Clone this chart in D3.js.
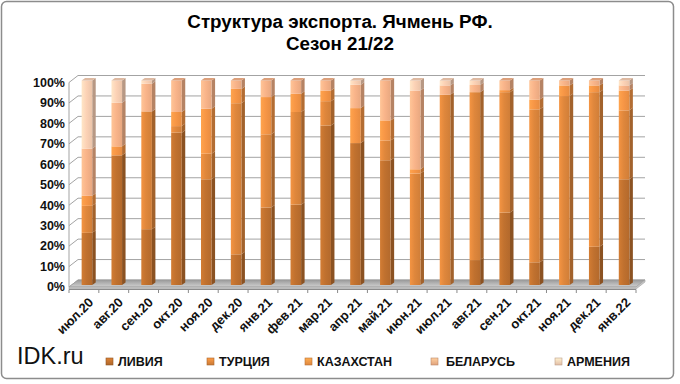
<!DOCTYPE html>
<html><head><meta charset="utf-8">
<script src="https://cdn.jsdelivr.net/npm/d3@7"></script>
<style>body{margin:0;background:#fff}svg{display:block}text{font-family:"Liberation Sans",Arial,sans-serif}</style>
</head><body><svg id="c" width="680" height="384"></svg>
<script>
const categories = ["июл.20","авг.20","сен.20","окт.20","ноя.20","дек.20","янв.21","фев.21","мар.21","апр.21","май.21","июн.21","июл.21","авг.21","сен.21","окт.21","ноя.21","дек.21","янв.22"];
const seriesNames = ["ЛИВИЯ","ТУРЦИЯ","КАЗАХСТАН","БЕЛАРУСЬ","АРМЕНИЯ"];
const libya   = [25.5, 63.4, 27.3, 74.5, 51.7, 15.0, 37.9, 39.3, 78.0, 69.4, 61.0,  0.0,  0.0, 12.2, 35.4, 11.1,  0.0, 18.7, 51.7];
const turkey  = [13.2,  0.0, 57.6,  3.2, 12.5, 73.9, 35.8, 45.3, 11.9,  0.0,  9.7, 54.5, 93.0, 82.1, 58.9, 74.8, 92.4, 75.6, 33.7];
const kazakh  = [ 4.9,  4.4,  0.0,  6.9, 22.0,  7.0, 18.2,  8.9,  5.2, 17.1,  9.8,  2.1,  0.0,  0.0,  1.0,  4.8,  5.2,  3.3,  9.7];
const belarus = [23.1, 21.3, 13.5, 15.4, 13.8,  4.1,  8.1,  6.5,  4.9, 11.4, 19.5, 38.5,  4.6,  3.5,  4.7,  9.3,  2.4,  2.4,  2.5];
const armenia = [33.3, 10.9,  1.6,  0.0,  0.0,  0.0,  0.0,  0.0,  0.0,  2.1,  0.0,  4.9,  2.4,  2.2,  0.0,  0.0,  0.0,  0.0,  2.4];
const yTicks = [0,10,20,30,40,50,60,70,80,90,100];
const colors = ["#c0712f","#df873c","#f79646","#f9b48a","#fcd2b6"];

const seriesData = [libya, turkey, kazakh, belarus, armenia];
const table = categories.map((c,i)=>{const o={cat:c}; seriesNames.forEach((s,k)=>o[s]=seriesData[k][i]); return o;});
const stacked = d3.stack().keys(seriesNames)(table);

const svg = d3.select("#c");
const defs = svg.append("defs");

svg.append("rect").attr("x",1.5).attr("y",1.5).attr("width",672).attr("height",377).attr("rx",5)
  .attr("fill","#fff").attr("stroke","#8c8c8c").attr("stroke-width",1.5);

// title
svg.append("text").attr("x",340).attr("y",28).attr("text-anchor","middle").attr("font-size",18.8).attr("font-weight","bold").text("Структура экспорта. Ячмень РФ.");
svg.append("text").attr("x",340).attr("y",50).attr("text-anchor","middle").attr("font-size",18.8).attr("font-weight","bold").text("Сезон 21/22");

const x = d3.scaleBand().domain(categories).range([69,636]);
const y = d3.scaleLinear().domain([0,100]).range([287,82.5]);
const BACK = {dx:9, dy:-7};
const BF = {dx:3, dy:-2};
const SD = {dx:3.5, dy:-2.5};

// walls / gridlines
const grid = svg.append("g").attr("fill","none").attr("stroke","#a3a3a3").attr("stroke-width",1);
yTicks.forEach(v=>{
  const yy=y(v);
  grid.append("path").attr("d",`M${x.range()[0]},${yy}L${x.range()[0]+BACK.dx},${yy+BACK.dy}L${x.range()[1]+BACK.dx},${yy+BACK.dy}`);
});
grid.append("path").attr("d",`M${x.range()[0]},${y(100)}L${x.range()[0]},${y(0)}`);

// floor
const fg = defs.append("linearGradient").attr("id","floor").attr("x1",0).attr("y1",0).attr("x2",0).attr("y2",1);
fg.append("stop").attr("offset","0%").attr("stop-color","#9a9a9a");
fg.append("stop").attr("offset","100%").attr("stop-color","#d0d0d0");
const x0=x.range()[0], x1=x.range()[1], yb=y(0);
svg.append("path").attr("d",`M${x0},${yb}L${x0+BACK.dx},${yb+BACK.dy}L${x1+BACK.dx},${yb+BACK.dy}L${x1},${yb}Z`)
  .attr("fill","url(#floor)").attr("stroke","#9c9c9c").attr("stroke-width",0.8);
svg.append("path").attr("d",`M${x0},${yb}L${x1},${yb}L${x1+BACK.dx},${yb+BACK.dy}L${x1+BACK.dx},${yb+BACK.dy+2}L${x1},${yb+2}L${x0},${yb+2}Z`)
  .attr("fill","#c8c8c8").attr("stroke","#a0a0a0").attr("stroke-width",0.6);

// axis
const ax = svg.append("g").attr("stroke","#8a8a8a").attr("stroke-width",1);
ax.append("line").attr("x1",x0).attr("x2",x1).attr("y1",yb+2.5).attr("y2",yb+2.5);
categories.concat([null]).forEach((c,i)=>{
  const xx = c===null ? x1 : x(c);
  ax.append("line").attr("x1",xx).attr("x2",xx).attr("y1",yb+2.5).attr("y2",yb+6);
});

// gradients for bars
colors.forEach((c,k)=>{
  const g=defs.append("linearGradient").attr("id","g"+k).attr("x1",0).attr("x2",1).attr("y1",0).attr("y2",0);
  g.append("stop").attr("offset","0%").attr("stop-color",d3.color(c).brighter(0.25));
  g.append("stop").attr("offset","45%").attr("stop-color",c);
  g.append("stop").attr("offset","100%").attr("stop-color",d3.color(c).darker(0.2));
});

// bars
const bw = x.bandwidth()*0.355;
categories.forEach((cat,i)=>{
  const fx = x(cat)+(x.bandwidth()-bw)/2+BF.dx;
  let topK=-1;
  stacked.forEach((s,k)=>{ if(s[i][1]-s[i][0]>0) topK=k; });
  stacked.forEach((s,k)=>{
    const d=s[i]; if(d[1]-d[0]<=0) return;
    const ya=y(d[0])+BF.dy, yt=y(d[1])+BF.dy;
    svg.append("path").attr("d",`M${fx+bw},${yt}L${fx+bw+SD.dx},${yt+SD.dy}L${fx+bw+SD.dx},${ya+SD.dy}L${fx+bw},${ya}Z`)
      .attr("fill",d3.color(colors[k]).darker(0.9));
    svg.append("rect").attr("x",fx).attr("y",yt).attr("width",bw).attr("height",ya-yt).attr("fill",`url(#g${k})`);
    if(k===topK){
      svg.append("path").attr("d",`M${fx},${yt}L${fx+SD.dx},${yt+SD.dy}L${fx+bw+SD.dx},${yt+SD.dy}L${fx+bw},${yt}Z`)
        .attr("fill",d3.color(colors[k]).darker(0.35));
    }
  });
});

// y labels
svg.append("g").selectAll("text").data(yTicks).join("text")
  .attr("x",65).attr("y",d=>y(d)).attr("dy","0.35em").attr("text-anchor","end")
  .attr("font-size",12.5).attr("font-weight","bold").attr("fill","#111").text(d=>d+"%");

// x labels
svg.append("g").selectAll("text").data(categories).join("text")
  .attr("transform",d=>`translate(${x(d)+x.bandwidth()/2+7},${yb+13}) rotate(-45)`)
  .attr("text-anchor","end").attr("dy","0.35em")
  .attr("font-size",13).attr("font-weight","bold").attr("fill","#111").text(d=>d);

// footer
svg.append("text").attr("x",17).attr("y",364).attr("font-size",23.5).attr("fill","#111").text("IDK.ru");
const legX=[106,207,305,431,555], legT=[118,219,317,446,567];
seriesNames.forEach((n,k)=>{
  const lg=defs.append("linearGradient").attr("id","lg"+k).attr("x1",0).attr("x2",0).attr("y1",0).attr("y2",1);
  lg.append("stop").attr("offset","0%").attr("stop-color",d3.color(colors[k]).brighter(0.4));
  lg.append("stop").attr("offset","100%").attr("stop-color",d3.color(colors[k]).darker(0.3));
  svg.append("rect").attr("x",legX[k]).attr("y",358).attr("width",7).attr("height",7)
    .attr("fill",`url(#lg${k})`).attr("stroke",d3.color(colors[k]).darker(0.8)).attr("stroke-width",0.6);
  svg.append("text").attr("x",legT[k]).attr("y",362).attr("dy","0.35em").attr("font-size",12.5).attr("font-weight","bold").attr("fill","#111").text(n);
});
</script></body></html>
